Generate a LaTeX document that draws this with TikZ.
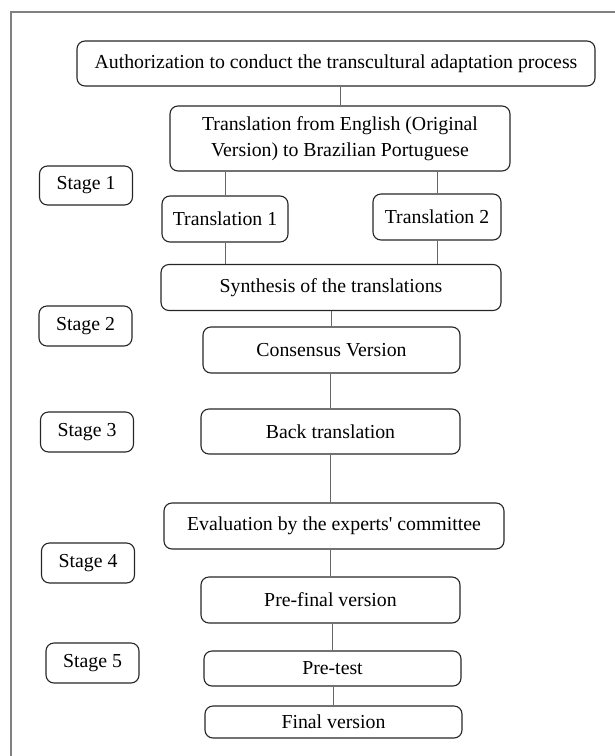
\documentclass[tikz,border=0pt]{standalone}
\usepackage{fontspec}
\setmainfont{Liberation Serif}

\begin{document}
\begin{tikzpicture}[x=1pt,y=-1pt,
  box/.style={draw=black!85, line width=1.1pt, rounded corners=8pt, inner sep=0pt,
    align=center, font=\fontsize{19.8}{25.5}\selectfont},
  stagebox/.style={box, minimum width=93pt, minimum height=40pt},
  link/.style={draw=black!60, line width=1pt}]
  \useasboundingbox (0,0) rectangle (615,756);
  \draw[black!50, line width=1.5pt] (620,12) -- (11,12) -- (11,760);

  \node[box, minimum width=518pt, minimum height=45pt] (auth) at (336,63.5) {Authorization to conduct the transcultural adaptation process};
  \node[box, minimum width=340pt, minimum height=65pt] (trans) at (340,138.5) {Translation from English (Original\\Version) to Brazilian Portuguese};
  \node[box, minimum width=126pt, minimum height=46pt] (tone) at (225,219) {Translation 1};
  \node[box, minimum width=128pt, minimum height=46pt] (ttwo) at (437,217) {Translation 2};
  \node[box, minimum width=340pt, minimum height=46pt] (synth) at (331,287.5) {Synthesis of the translations};
  \node[box, minimum width=257pt, minimum height=46pt] (cons) at (331.5,350) {Consensus Version};
  \node[box, minimum width=259pt, minimum height=45pt] (back) at (330.5,431.5) {Back translation};
  \node[box, minimum width=340pt, minimum height=46pt] (eval) at (334,526) {Evaluation by the experts\textquotesingle{} committee};
  \node[box, minimum width=259pt, minimum height=46pt] (prefin) at (330.5,600) {Pre-final version};
  \node[box, minimum width=257pt, minimum height=35pt] (pretest) at (332.5,668.5) {Pre-test};
  \node[box, minimum width=257pt, minimum height=32pt] (final) at (333.5,722) {Final version};

  \node[stagebox, minimum height=39pt] (st1) at (86,185.5) {Stage 1};
  \node[stagebox, minimum height=40pt] (st2) at (85.5,326) {Stage 2};
  \node[stagebox] (st3) at (87,432) {Stage 3};
  \node[stagebox] (st4) at (88,563) {Stage 4};
  \node[stagebox] (st5) at (92.5,663) {Stage 5};

  \draw[link] (trans.north) -- (trans.north |- auth.south);
  \draw[link] (tone.north) -- (tone.north |- trans.south);
  \draw[link] (ttwo.north) -- (ttwo.north |- trans.south);
  \draw[link] (tone.south) -- (tone.south |- synth.north);
  \draw[link] (ttwo.south) -- (ttwo.south |- synth.north);
  \draw[link] (cons.north) -- (cons.north |- synth.south);
  \draw[link] (back.north) -- (back.north |- cons.south);
  \draw[link] (back.south) -- (back.south |- eval.north);
  \draw[link] (prefin.north) -- (prefin.north |- eval.south);
  \draw[link] (pretest.north) -- (pretest.north |- prefin.south);
  \draw[link] (final.north) -- (final.north |- pretest.south);
\end{tikzpicture}
\end{document}
